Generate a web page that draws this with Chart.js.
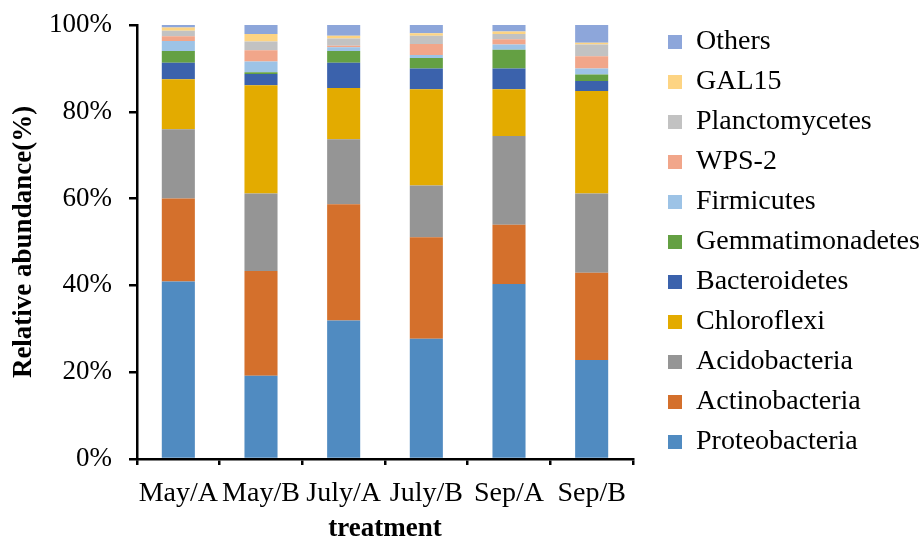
<!DOCTYPE html>
<html>
<head>
<meta charset="utf-8">
<script src="https://cdn.jsdelivr.net/npm/chart.js@4"></script>
<style>
  html, body { margin: 0; padding: 0; background: #fff; }
  #wrap { width: 921px; height: 543px; position: relative; }
</style>
</head>
<body>
<div id="wrap"><canvas id="myChart"></canvas></div>
<script>
'use strict';
// treatments on the x axis
let treatments = ['May/A', 'May/B', 'July/A', 'July/B', 'Sep/A', 'Sep/B'];
let yTicks = [0, 20, 40, 60, 80, 100];

// relative abundance (%) per phylum
let proteobacteria   = [40.9, 19.2, 31.9, 27.7, 40.3, 22.8];
let actinobacteria   = [19.1, 24.1, 26.8, 23.4, 13.7, 20.1];
let acidobacteria    = [16.0, 17.9, 15.0, 11.9, 20.4, 18.3];
let chloroflexi      = [11.5, 24.9, 11.8, 22.2, 10.8, 23.6];
let bacteroidetes    = [3.8, 2.6, 5.8, 4.8, 4.8, 2.3];
let gemmatimonadetes = [2.7, 0.4, 2.7, 2.4, 4.3, 1.5];
let firmicutes       = [2.3, 2.5, 0.9, 0.7, 1.2, 1.4];
let wps2             = [1.1, 2.6, 0.3, 2.5, 1.2, 2.8];
let planctomycetes   = [1.3, 2.0, 1.7, 1.9, 1.2, 2.7];
let gal15            = [0.7, 1.7, 0.6, 0.6, 0.6, 0.4];
let others           = [0.6, 2.1, 2.5, 1.9, 1.5, 4.1];

let phyla = ['Proteobacteria', 'Actinobacteria', 'Acidobacteria', 'Chloroflexi', 'Bacteroidetes',
  'Gemmatimonadetes', 'Firmicutes', 'WPS-2', 'Planctomycetes', 'GAL15', 'Others'];
let values = [proteobacteria, actinobacteria, acidobacteria, chloroflexi, bacteroidetes,
  gemmatimonadetes, firmicutes, wps2, planctomycetes, gal15, others];
let colors = ['#508BC1', '#D4702C', '#959595', '#E3AB00', '#3B62AC',
  '#64A043', '#9DC3E6', '#F1A68A', '#C2C2C2', '#FDD483', '#8DA6DA'];

let datasets = [];
for (let i = 0; i < phyla.length; i++) {
  datasets.push({
    label: phyla[i],
    data: values[i],
    backgroundColor: colors[i],
    borderWidth: 0,
    barPercentage: 0.4,
    categoryPercentage: 1
  });
}

const serif = 'Liberation Serif';

var ctx = document.getElementById('myChart').getContext('2d');
let myChart = new Chart(ctx, {
  type: 'bar',
  data: { labels: treatments, datasets: datasets },
  options: {
    responsive: true,
    maintainAspectRatio: false,
    animation: false,
    layout: { padding: { top: 16, left: 4, right: 0, bottom: 0 } },
    plugins: {
      tooltip: { enabled: false },
      legend: {
        position: 'right',
        align: 'start',
        reverse: true,
        maxWidth: 265,
        labels: {
          boxWidth: 14,
          boxHeight: 14,
          padding: 12,
          color: '#000',
          font: { family: serif, size: 28 }
        }
      }
    },
    scales: {
      x: {
        stacked: true,
        afterFit: function (scale) {
          scale.height = 84;
          scale.paddingLeft = 0;
          scale.paddingRight = 0;
        },
        grid: { display: true, drawOnChartArea: false, drawTicks: true, tickLength: 6, color: '#000', lineWidth: 2.5 },
        border: { display: true, color: '#000', width: 2.5 },
        ticks: { color: '#000', padding: 12, autoSkip: false, maxRotation: 0, font: { family: serif, size: 28 } },
        title: { display: true, text: 'treatment', color: '#000', padding: { top: 0, bottom: 0 },
          font: { family: serif, size: 27, weight: 'bold', lineHeight: 1.0 } }
      },
      y: {
        stacked: true,
        min: 0,
        max: 100,
        afterBuildTicks: function (scale) {
          scale.ticks = yTicks.map(v => ({ value: v }));
        },
        afterFit: function (scale) {
          scale.paddingTop = 25;
          scale.width = 133;
        },
        grid: { display: true, drawOnChartArea: false, drawTicks: true, tickLength: 8, color: '#000', lineWidth: 2.5 },
        border: { display: true, color: '#000', width: 2.5 },
        ticks: {
          color: '#000',
          padding: 17,
          font: { family: serif, size: 27 },
          callback: function (v) { return v + '%'; }
        },
        title: { display: true, text: 'Relative abundance(%)', color: '#000', padding: { top: 4, bottom: 8 },
          font: { family: serif, size: 27, weight: 'bold' } }
      },
      gap: {
        type: 'linear',
        position: 'right',
        display: true,
        grid: { display: false },
        border: { display: false },
        ticks: { display: false },
        afterFit: function (scale) {
          scale.width = 23;
        }
      }
    }
  }
});
</script>
</body>
</html>
